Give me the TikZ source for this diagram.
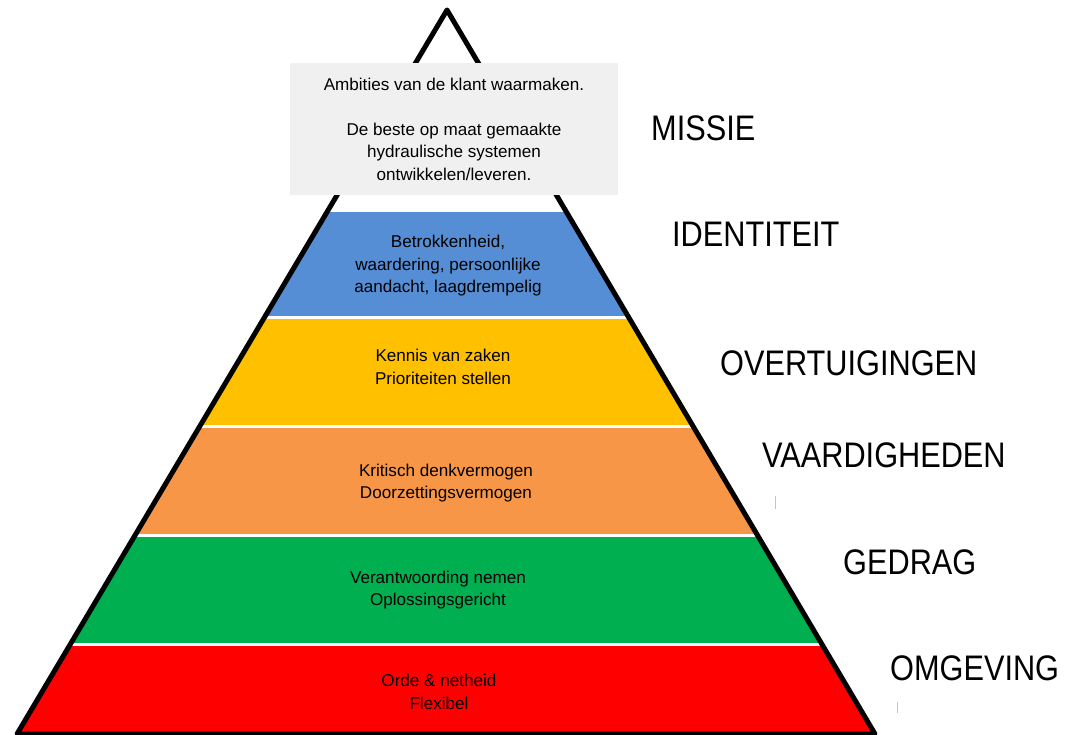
\documentclass[tikz,border=0pt]{standalone}
\usepackage{fontspec}
\setmainfont{Liberation Sans}
\newfontfamily\levelfont[FakeStretch=0.865]{Liberation Sans}
\usetikzlibrary{positioning}

\definecolor{lvlblue}{RGB}{85,142,213}
\definecolor{lvlyellow}{RGB}{255,192,0}
\definecolor{lvlorange}{RGB}{247,150,70}
\definecolor{lvlgreen}{RGB}{0,176,80}
\definecolor{lvlred}{RGB}{255,0,0}
\definecolor{boxgrey}{RGB}{240,240,240}

\begin{document}
\begin{tikzpicture}[
    x=1pt, y=-1pt,
    txt/.style={font=\fontsize{17.1}{22.5}\selectfont, align=center,
        inner sep=0pt, text=black},
    lvl/.style={font=\levelfont\fontsize{35.5}{40}\selectfont,
        anchor=west, inner sep=0pt},
    band/.style={fill=#1},
    edge/.style={line width=5pt, line join=round},
    tick/.style={draw=gray!45, line width=0.8pt},
]
    \useasboundingbox (0,0) rectangle (1070,735);

    % ---------- piramide ----------
    \coordinate (apex) at (447,10);
    \coordinate (bl)   at (17,734);
    \coordinate (br)   at (875,734);

    \fill[white] (apex) -- (bl) -- (br) -- cycle;
    \begin{scope}
        \clip (apex) -- (bl) -- (br) -- cycle;
        \fill[band=lvlblue]   (0,212) rectangle (1070,316);
        \fill[band=lvlyellow] (0,319) rectangle (1070,425);
        \fill[band=lvlorange] (0,428) rectangle (1070,534);
        \fill[band=lvlgreen]  (0,537) rectangle (1070,643);
        \fill[band=lvlred]    (0,646) rectangle (1070,740);
    \end{scope}
    \draw[edge] (apex) -- (bl) -- (br) -- cycle;

    % ---------- missie ----------
    \node[fill=boxgrey, minimum width=328pt, minimum height=132pt,
        txt] (mis) at (454,129)
        {Ambities van de klant waarmaken.\\[22.5pt]
         De beste op maat gemaakte\\hydraulische systemen\\ontwikkelen/leveren.};

    % ---------- lagen ----------
    \node[txt] (idt) at (448,266)
        {Betrokkenheid,\\waardering, persoonlijke\\aandacht, laagdrempelig};
    \node[txt] (ovt) at (443,367) {Kennis van zaken\\Prioriteiten stellen};
    \node[txt] (vrd) at (446,483) {Kritisch denkvermogen\\Doorzettingsvermogen};
    \node[txt] (gdr) at (438,590) {Verantwoording nemen\\Oplossingsgericht};
    \node[txt] (omg) at (439,692) {Orde \& netheid\\Flexibel};

    % ---------- niveaus ----------
    \node[lvl] (lmis) at (651,128) {MISSIE};
    \node[lvl] (lidt) at (672,234) {IDENTITEIT};
    \node[lvl] (lovt) at (720,363) {OVERTUIGINGEN};
    \node[lvl] (lvrd) at (762,455) {VAARDIGHEDEN};
    \node[lvl] (lgdr) at (843,562) {GEDRAG};
    \node[lvl] (lomg) at (890,668) {OMGEVING};

    \draw[tick] (775,496) -- (775,509);
    \draw[tick] (897,702) -- (897,713);
\end{tikzpicture}
\end{document}
